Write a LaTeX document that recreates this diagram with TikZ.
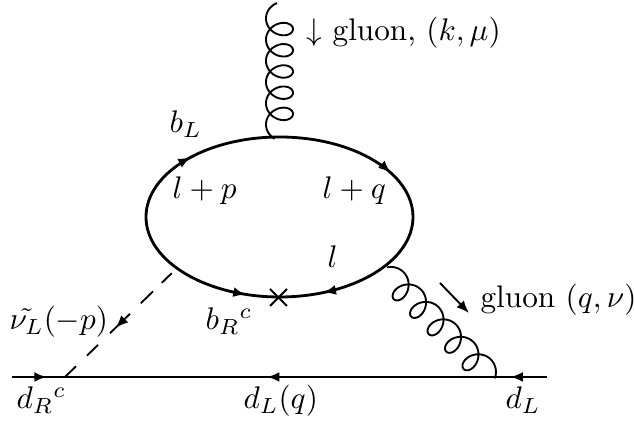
\documentclass[tikz,border=0pt]{standalone}
\usetikzlibrary{arrows.meta,decorations.markings,calc}
\tikzset{
  tip/.style={-{Latex[length=4pt,width=3.2pt]}},
  mainline/.style={line width=.9pt},
  thinline/.style={line width=.6pt},
  lab/.style={anchor=base west,inner sep=0pt},
  arrowat/.style={postaction={decorate,decoration={markings,mark=at position #1 with {\arrow{Latex[length=4pt,width=3.2pt]}}}}},
  rarrowat/.style={postaction={decorate,decoration={markings,mark=at position #1 with {\arrow{Latex[length=4pt,width=3.2pt,reversed]}}}}}
}
\newcommand{\gluoncurve}[3]{% pitch, x radius, y radius
  plot[domain=-1.2:32.8,samples=400,smooth,variable=\t]
    ({-#2*cos(\t r)},{-(#1*\t/6.2832+#3*sin(\t r))})}
\begin{document}
\begin{tikzpicture}[x=.32pt,y=-.32pt]
\useasboundingbox (0,0) rectangle (634,426);
\coordinate (c) at (279.5,217);
\coordinate (g1o) at (279.5,124.5);
\coordinate (g2o) at (394.3,281.3);
\coordinate (fl) at (12,377);
\coordinate (fr) at (547,377);
\coordinate (sa) at (175,270);
\coordinate (sb) at (65,377);
\coordinate (xa) at (270,289);
\coordinate (xb) at (287,306);
\coordinate (xc) at (270,306);
\coordinate (xd) at (287,289);
\coordinate (qa) at (440,283);
\coordinate (qb) at (469,313);
% loop
\draw[mainline,arrowat=.185,rarrowat=.318,arrowat=.615,arrowat=.925] (c) ellipse [x radius=133.5,y radius=80];
% fermion line
\draw[mainline,arrowat=.065,rarrowat=.5,rarrowat=.955] (fl) -- (fr);
% gluons
\begin{scope}[shift={(g1o)}]
\draw[thinline] \gluoncurve{21.2}{13.5}{11};
\end{scope}
\begin{scope}[shift={(g2o)},rotate=-135]
\draw[thinline] \gluoncurve{24.7}{13}{11};
\end{scope}
% scalar
\draw[thinline] ($(sb)!0!(sa)$) -- ($(sb)!.10!(sa)$);
\draw[thinline] ($(sb)!.20!(sa)$) -- ($(sb)!.30!(sa)$);
\draw[thinline,arrowat=.72] ($(sb)!.59!(sa)$) -- ($(sb)!.41!(sa)$);
\draw[thinline] ($(sb)!.69!(sa)$) -- ($(sb)!.80!(sa)$);
\draw[thinline] ($(sb)!.88!(sa)$) -- ($(sb)!.97!(sa)$);
% cross
\draw[thinline] (xa) -- (xb) (xc) -- (xd);
% momentum arrow
\draw[thinline,tip] (qa) -- (qb);
% labels
\node[lab] (t1) at (306,41) {$\downarrow$ gluon, $(k,\mu)$};
\node[lab] (t2) at (169,133) {$b_L$};
\node[lab] (t3) at (172,199) {$l+p$};
\node[lab] (t4) at (322,199) {$l+q$};
\node[lab] (t5) at (327,268) {$l$};
\node[lab] (t6) at (205,330) {$b_R{}^c$};
\node[lab] (t7) at (9,330) {$\tilde{\nu_L}(-p)$};
\node[lab] (t8) at (480,308) {gluon $(q,\nu)$};
\node[lab] (t9) at (16,409) {$d_R{}^c$};
\node[lab] (t10) at (243,409) {$d_L(q)$};
\node[lab] (t11) at (505,409) {$d_L$};
\end{tikzpicture}
\end{document}
